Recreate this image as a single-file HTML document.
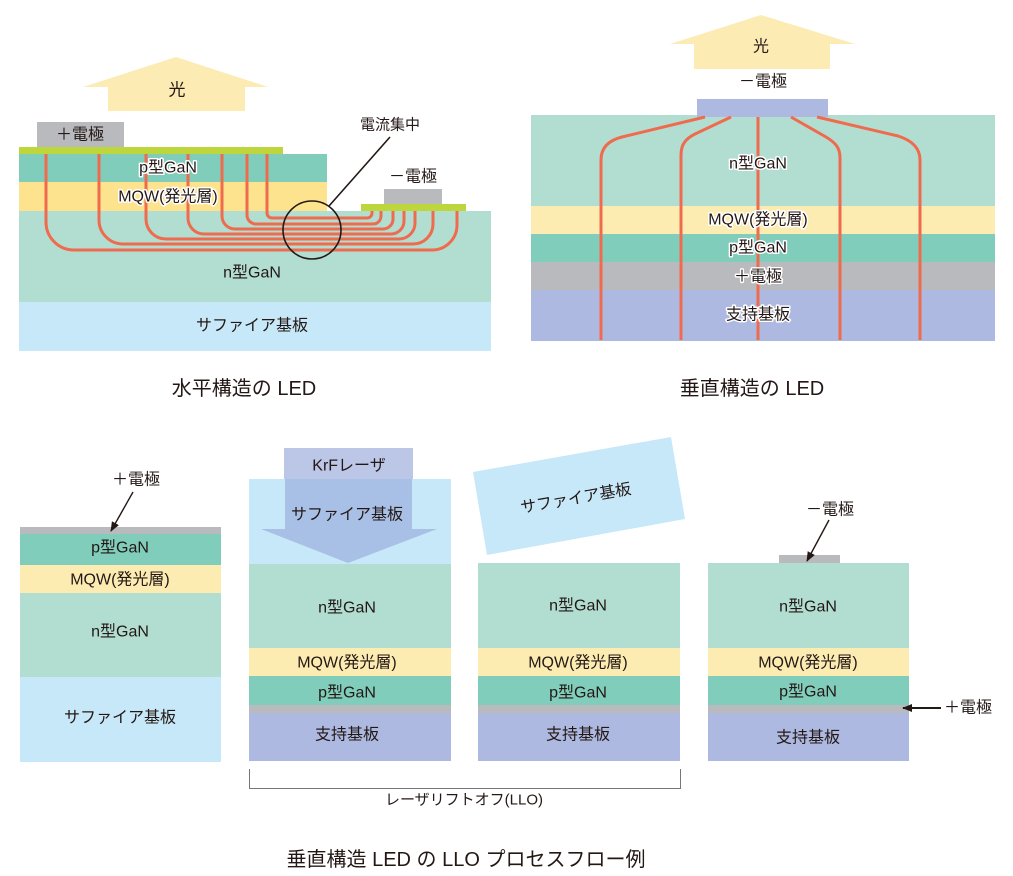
<!DOCTYPE html>
<html><head><meta charset="utf-8"><style>
html,body{margin:0;padding:0;background:#fff;}
svg{display:block;}
text{font-family:"Liberation Sans","Noto Sans CJK JP",sans-serif;fill:#231815;}
.h{paint-order:stroke;stroke:#fff;stroke-width:3px;stroke-linejoin:round;}
</style></head><body>
<svg width="1013" height="876" viewBox="0 0 1013 876" xmlns="http://www.w3.org/2000/svg">
<defs>
<marker id="ah" markerWidth="10" markerHeight="10" refX="9" refY="5" orient="auto" markerUnits="userSpaceOnUse">
<path d="M0,1 L10,5 L0,9 z" fill="#231815"/>
</marker>
</defs>

<!-- ===== Horizontal LED (top-left) ===== -->
<polygon points="176,57 268,87 245,87 245,111 108,111 108,87 83,87" fill="#fdebb4"/>
<text x="177" y="90" font-size="17" text-anchor="middle" dominant-baseline="central">光</text>

<rect x="19" y="302" width="472" height="49" fill="#c7e8f8"/>
<rect x="19" y="211" width="472" height="91" fill="#b2ded2"/>
<rect x="19" y="182" width="308" height="29" fill="#fee38f"/>
<rect x="19" y="154" width="308" height="28" fill="#80cdbb"/>
<rect x="19" y="147" width="264" height="7" fill="#bcd63c"/>
<rect x="37" y="122" width="87" height="25" fill="#b9babd"/>
<rect x="384" y="189" width="58" height="15" fill="#b9babd"/>
<rect x="361" y="204" width="105" height="7" fill="#bcd63c"/>

<g fill="none" stroke="#ef6b4e" stroke-width="3">
<path d="M46,154 V222 A28,28 0 0 0 74,250 H432 A25,25 0 0 0 457,225 V211"/>
<path d="M99,154 V220 A24,24 0 0 0 123,244 H413 A20,20 0 0 0 433,224 V211"/>
<path d="M146,154 V219 A20,20 0 0 0 166,239 H399 A16,16 0 0 0 415,223 V211"/>
<path d="M188,154 V218 A16,16 0 0 0 204,234 H391 A13,13 0 0 0 404,221 V211"/>
<path d="M222,154 V216 A13,13 0 0 0 235,229 H383 A10,10 0 0 0 393,219 V211"/>
<path d="M247,154 V215 A9,9 0 0 0 256,224 H373 A8,8 0 0 0 381,216 V211"/>
<path d="M267,154 V213 A5,5 0 0 0 272,218 H367 A5,5 0 0 0 372,213 V211"/>
</g>

<circle cx="312" cy="230" r="29" fill="none" stroke="#231815" stroke-width="1.6"/>
<line x1="390" y1="137" x2="329" y2="206" stroke="#231815" stroke-width="1.6"/>

<text x="80" y="135" font-size="16" text-anchor="middle" dominant-baseline="central">＋電極</text>
<text class="h" x="168" y="168" font-size="16" text-anchor="middle" dominant-baseline="central">p型GaN</text>
<text class="h" x="168" y="197" font-size="16" text-anchor="middle" dominant-baseline="central">MQW(発光層)</text>
<text x="390" y="125" font-size="15" text-anchor="middle" dominant-baseline="central">電流集中</text>
<text x="413" y="177" font-size="16" text-anchor="middle" dominant-baseline="central">－電極</text>
<text x="252" y="273" font-size="16" text-anchor="middle" dominant-baseline="central">n型GaN</text>
<text x="252" y="326" font-size="16" text-anchor="middle" dominant-baseline="central">サファイア基板</text>

<text x="244" y="389" font-size="20" text-anchor="middle" dominant-baseline="central">水平構造の LED</text>

<!-- ===== Vertical LED (top-right) ===== -->
<polygon points="761,15 855,44 830,44 830,69 694,69 694,44 670,44" fill="#fdebb4"/>
<text x="761" y="47" font-size="16" text-anchor="middle" dominant-baseline="central">光</text>
<text x="763" y="82" font-size="16" text-anchor="middle" dominant-baseline="central">－電極</text>

<rect x="531" y="290" width="464" height="51" fill="#adb9e0"/>
<rect x="531" y="262" width="464" height="28" fill="#b9babd"/>
<rect x="531" y="234" width="464" height="28" fill="#80cdbb"/>
<rect x="531" y="206" width="464" height="28" fill="#fdecb2"/>
<rect x="531" y="115" width="464" height="91" fill="#b2ded2"/>
<rect x="697" y="99" width="131" height="18" fill="#adb9e0"/>

<g fill="none" stroke="#ef6b4e" stroke-width="3">
<path d="M758,117 V340"/>
<path d="M705,117 L622,137 C606,141 601,150 601,160 V340"/>
<path d="M731,117 L695,134 C685,139 681,145 681,155 V340"/>
<path d="M791,117 L826,137 C836,143 840,148 840,158 V340"/>
<path d="M817,117 L898,136 C914,141 920,150 920,160 V340"/>
</g>

<text class="h" x="758" y="164" font-size="16" text-anchor="middle" dominant-baseline="central">n型GaN</text>
<text class="h" x="758" y="220" font-size="16" text-anchor="middle" dominant-baseline="central">MQW(発光層)</text>
<text class="h" x="758" y="248" font-size="16" text-anchor="middle" dominant-baseline="central">p型GaN</text>
<text class="h" x="758" y="277" font-size="16" text-anchor="middle" dominant-baseline="central">＋電極</text>
<text class="h" x="758" y="315" font-size="16" text-anchor="middle" dominant-baseline="central">支持基板</text>

<text x="752" y="389" font-size="20" text-anchor="middle" dominant-baseline="central">垂直構造の LED</text>

<!-- ===== Bottom: LLO process ===== -->
<!-- col1 -->
<rect x="20" y="527" width="201" height="7" fill="#b9babd"/>
<rect x="20" y="534" width="201" height="31" fill="#80cdbb"/>
<rect x="20" y="565" width="201" height="28" fill="#fdecb2"/>
<rect x="20" y="593" width="201" height="84" fill="#b2ded2"/>
<rect x="20" y="677" width="201" height="85" fill="#c7e8f8"/>
<text x="136" y="480" font-size="16" text-anchor="middle" dominant-baseline="central">＋電極</text>
<line x1="133" y1="492" x2="111" y2="531" stroke="#231815" stroke-width="1.4" marker-end="url(#ah)"/>
<text x="120" y="548" font-size="16" text-anchor="middle" dominant-baseline="central">p型GaN</text>
<text x="120" y="580" font-size="16" text-anchor="middle" dominant-baseline="central">MQW(発光層)</text>
<text x="120" y="632" font-size="16" text-anchor="middle" dominant-baseline="central">n型GaN</text>
<text x="120" y="718" font-size="16" text-anchor="middle" dominant-baseline="central">サファイア基板</text>

<!-- col2 -->
<rect x="249" y="479" width="202" height="85" fill="#c7e8f8"/>
<rect x="249" y="564" width="202" height="84" fill="#b2ded2"/>
<rect x="249" y="648" width="202" height="28" fill="#fdecb2"/>
<rect x="249" y="676" width="202" height="29" fill="#80cdbb"/>
<rect x="249" y="705" width="202" height="8" fill="#b9babd"/>
<rect x="249" y="713" width="202" height="48" fill="#adb9e0"/>
<rect x="284" y="448" width="129" height="31" fill="#bcc6e7"/>
<polygon points="285,479 412,479 412,529 437,529 348,563 261,529 285,529" fill="#a9c0e6"/>
<text x="349" y="466" font-size="16" text-anchor="middle" dominant-baseline="central">KrFレーザ</text>
<text x="347" y="515" font-size="16" text-anchor="middle" dominant-baseline="central">サファイア基板</text>
<text x="347" y="608" font-size="16" text-anchor="middle" dominant-baseline="central">n型GaN</text>
<text x="347" y="663" font-size="16" text-anchor="middle" dominant-baseline="central">MQW(発光層)</text>
<text x="347" y="693" font-size="16" text-anchor="middle" dominant-baseline="central">p型GaN</text>
<text x="347" y="735" font-size="16" text-anchor="middle" dominant-baseline="central">支持基板</text>

<!-- col3 -->
<polygon points="473,472 671,437 685,519 487,555" fill="#c7e8f8"/>
<text x="576" y="499" font-size="16" text-anchor="middle" dominant-baseline="central" transform="rotate(-10 576 499)">サファイア基板</text>
<rect x="478" y="563" width="202" height="85" fill="#b2ded2"/>
<rect x="478" y="648" width="202" height="28" fill="#fdecb2"/>
<rect x="478" y="676" width="202" height="29" fill="#80cdbb"/>
<rect x="478" y="705" width="202" height="8" fill="#b9babd"/>
<rect x="478" y="713" width="202" height="48" fill="#adb9e0"/>
<text x="578" y="606" font-size="16" text-anchor="middle" dominant-baseline="central">n型GaN</text>
<text x="578" y="663" font-size="16" text-anchor="middle" dominant-baseline="central">MQW(発光層)</text>
<text x="578" y="693" font-size="16" text-anchor="middle" dominant-baseline="central">p型GaN</text>
<text x="578" y="735" font-size="16" text-anchor="middle" dominant-baseline="central">支持基板</text>

<!-- col4 -->
<rect x="779" y="555" width="61" height="8" fill="#b9babd"/>
<rect x="708" y="563" width="201" height="85" fill="#b2ded2"/>
<rect x="708" y="648" width="201" height="28" fill="#fdecb2"/>
<rect x="708" y="676" width="201" height="29" fill="#80cdbb"/>
<rect x="708" y="705" width="201" height="8" fill="#b9babd"/>
<rect x="708" y="713" width="201" height="48" fill="#adb9e0"/>
<text x="830" y="510" font-size="16" text-anchor="middle" dominant-baseline="central">－電極</text>
<line x1="829" y1="520" x2="807" y2="561" stroke="#231815" stroke-width="1.4" marker-end="url(#ah)"/>
<text x="808" y="607" font-size="16" text-anchor="middle" dominant-baseline="central">n型GaN</text>
<text x="808" y="663" font-size="16" text-anchor="middle" dominant-baseline="central">MQW(発光層)</text>
<text x="808" y="692" font-size="16" text-anchor="middle" dominant-baseline="central">p型GaN</text>
<text x="808" y="738" font-size="16" text-anchor="middle" dominant-baseline="central">支持基板</text>
<line x1="941" y1="708" x2="903" y2="708" stroke="#231815" stroke-width="2" marker-end="url(#ah)"/>
<text x="968" y="708" font-size="16" text-anchor="middle" dominant-baseline="central">＋電極</text>

<!-- bracket -->
<path d="M249.5,769 V788.5 H680.5 V769" fill="none" stroke="#777" stroke-width="1"/>
<text x="464" y="800" font-size="15" text-anchor="middle" dominant-baseline="central">レーザリフトオフ(LLO)</text>

<text x="466" y="860" font-size="20" text-anchor="middle" dominant-baseline="central">垂直構造 LED の LLO プロセスフロー例</text>
</svg>
</body></html>
